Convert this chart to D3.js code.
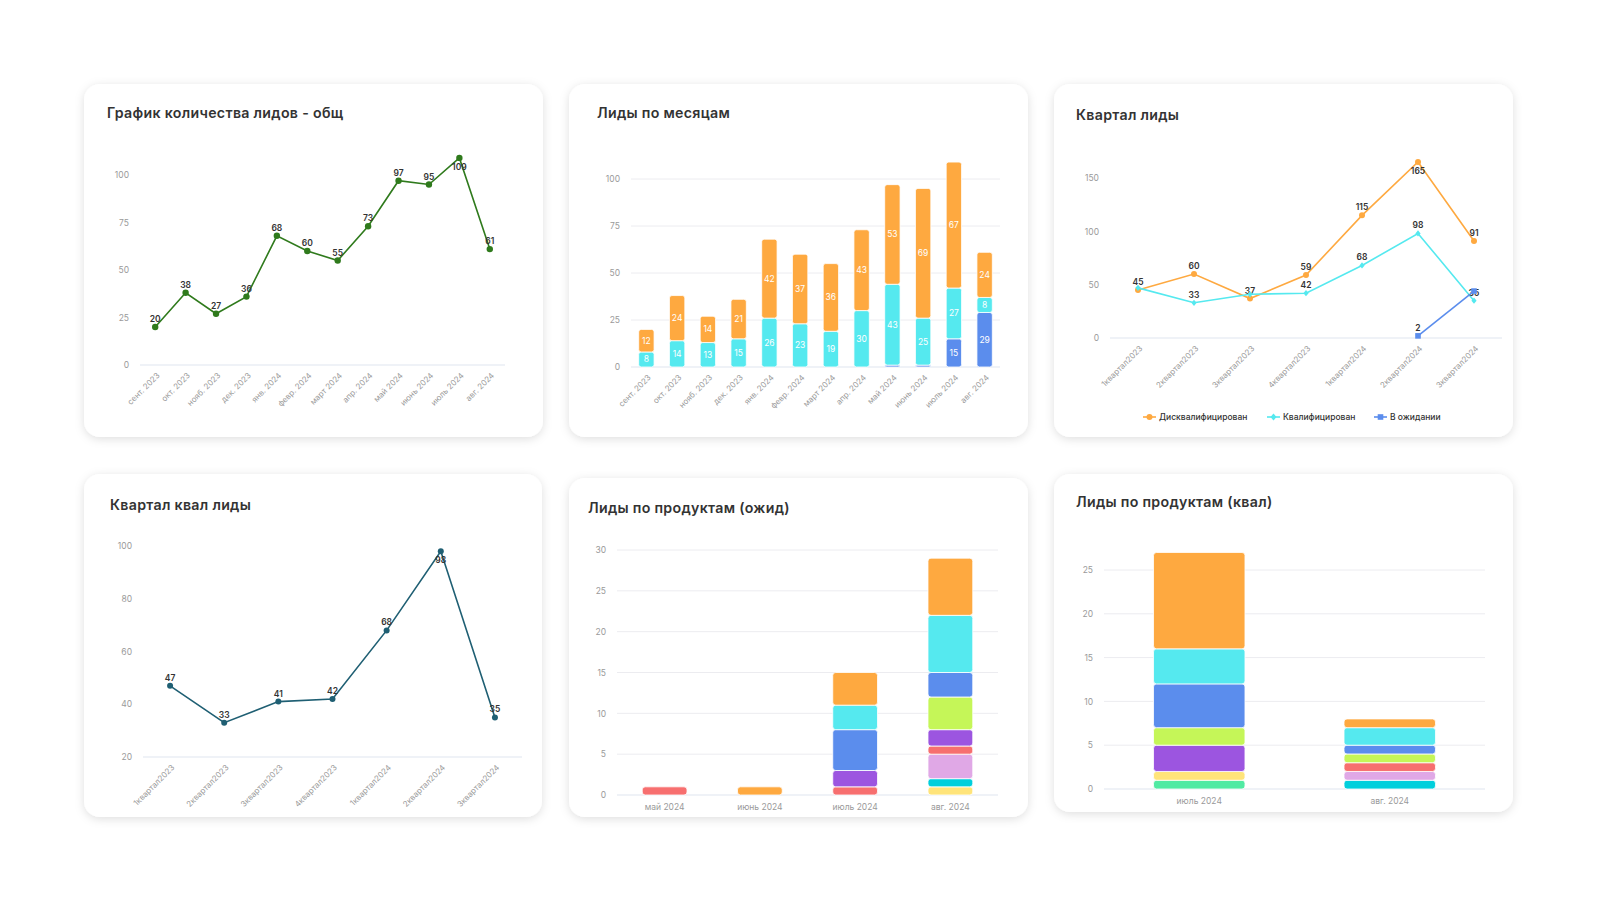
<!DOCTYPE html>
<html><head><meta charset="utf-8">
<script src="https://cdn.jsdelivr.net/npm/d3@7/dist/d3.min.js"></script>
<style>body{margin:0;background:#fff;} svg{display:block;font-family:Inter,"Open Sans",sans-serif;}</style>
</head><body><svg id="c" width="1600" height="900"></svg>
<script>
// ---------- DATA ----------
const months = ["сент. 2023","окт. 2023","нояб. 2023","дек. 2023","янв. 2024","февр. 2024","март 2024","апр. 2024","май 2024","июнь 2024","июль 2024","авг. 2024"];
const monthTotal = [20,38,27,36,68,60,55,73,97,95,109,61];
const monthWait  = [0,0,0,0,0,0,0,0,1,1,15,29];
const monthQual  = [8,14,13,15,26,23,19,30,43,25,27,8];
const monthDisq  = [12,24,14,21,42,37,36,43,53,69,67,24];

const quarters = ["1квартал2023","2квартал2023","3квартал2023","4квартал2023","1квартал2024","2квартал2024","3квартал2024"];
const qDisq = [45,60,37,59,115,165,91];
const qQual = [47,33,41,42,68,98,35];
const qWait = [null,null,null,null,null,2,44];
const seriesNames = ["Дисквалифицирован","Квалифицирован","В ожидании"];

const waitMonths = ["май 2024","июнь 2024","июль 2024","авг. 2024"];
const qualMonths = ["июль 2024","авг. 2024"];
const products = ["Продукт 1","Продукт 2","Продукт 3","Продукт 4","Продукт 5","Продукт 6","Продукт 7","Продукт 8","Продукт 9","Продукт 10"];
// values per product (bottom to top of stack), per month
const prodWait = [
  [0,0,0,0],[0,0,0,1],[0,0,0,1],[0,0,0,3],[1,0,1,1],
  [0,0,2,2],[0,0,0,4],[0,0,5,3],[0,0,3,7],[0,1,4,7]
];
const prodQual = [
  [1,0],[1,0],[0,1],[0,1],[0,1],
  [3,0],[2,1],[5,1],[4,2],[11,1]
];

// ---------- STYLE ----------
const productColors = ["#50eaa3","#ffe47a","#00cfdc","#e0a8e6","#f76f6f","#9c55e0","#c5f658","#5b8ded","#55e9ef","#fea940"];
const cOrange="#fea940", cCyan="#55e9ef", cBlue="#5b8ded";

const svg = d3.select("#c");
const defs = svg.append("defs");
defs.append("filter").attr("id","sh").attr("x","-10%").attr("y","-10%").attr("width","120%").attr("height","125%")
  .append("feDropShadow").attr("dx",0).attr("dy",2).attr("stdDeviation",5)
  .attr("flood-color","#000").attr("flood-opacity",0.13);

function card(x0,y0,x1,y1,title,tx,ty){
  svg.append("rect").attr("x",x0).attr("y",y0).attr("width",x1-x0).attr("height",y1-y0)
    .attr("rx",16).attr("fill","#fff").attr("filter","url(#sh)");
  svg.append("text").attr("x",tx).attr("y",ty).text(title)
    .attr("font-size",14.2).attr("font-weight",600).attr("letter-spacing",0.3).attr("fill","#333");
}

function yAxis(y, ticks, xl, xr, grid){
  const g = svg.append("g");
  if(grid){
    g.selectAll(".gr").data(ticks.slice(1)).join("line")
      .attr("x1",xl).attr("x2",xr).attr("y1",d=>y(d)).attr("y2",d=>y(d))
      .attr("stroke","#ececf0").attr("stroke-width",1);
  }
  g.append("line").attr("x1",xl).attr("x2",xr).attr("y1",y(ticks[0])).attr("y2",y(ticks[0]))
    .attr("stroke","#dfe5f0").attr("stroke-width",1.2);
  const ax = svg.append("g").attr("transform",`translate(${xl},0)`)
    .call(d3.axisLeft(y).tickValues(ticks).tickSize(0).tickPadding(11));
  ax.select(".domain").remove();
  ax.selectAll("text").attr("fill","#9a9a9a").attr("font-size",8.5).attr("font-family","Inter, sans-serif");
}

function xRotLabels(x, cats, yb){
  svg.append("g").selectAll("text").data(cats).join("text")
    .attr("transform",d=>`translate(${x(d)+x.bandwidth()/2+3},${yb+9}) rotate(-45)`)
    .attr("text-anchor","end").attr("dy","0.35em")
    .attr("font-size",8).attr("fill","#9a9a9a").text(d=>d);
}
function xFlatLabels(x, cats, yb){
  svg.append("g").selectAll("text").data(cats).join("text")
    .attr("x",d=>x(d)+x.bandwidth()/2).attr("y",yb)
    .attr("text-anchor","middle").attr("font-size",8.5).attr("fill","#9a9a9a").text(d=>d);
}

function symbol(g, type, cx, cy, color, r){
  if(type==="circle") g.append("circle").attr("cx",cx).attr("cy",cy).attr("r",r).attr("fill",color);
  else if(type==="square") g.append("rect").attr("x",cx-r).attr("y",cy-r).attr("width",2*r).attr("height",2*r).attr("fill",color);
  else g.append("path").attr("d",`M${cx},${cy-r*1.2}L${cx+r},${cy}L${cx},${cy+r*1.2}L${cx-r},${cy}Z`).attr("fill",color);
}

const placed = [];
function overlaps(b){ return placed.some(p=> !(b.x1<p.x0||b.x0>p.x1||b.y1<p.y0||b.y0>p.y1)); }

function lineSeries(x, y, cats, vals, color, sym, r, maxVal, useOverlap){
  const g = svg.append("g");
  const pts = cats.map((c,i)=>({c, v:vals[i]})).filter(d=>d.v!==null);
  const line = d3.line().x(d=>x(d.c)+x.bandwidth()/2).y(d=>y(d.v));
  g.append("path").datum(pts).attr("d",line).attr("fill","none").attr("stroke",color).attr("stroke-width",1.6);
  pts.forEach(d=>symbol(g, sym, x(d.c)+x.bandwidth()/2, y(d.v), color, r));
  pts.forEach(d=>{
    const cx = x(d.c)+x.bandwidth()/2;
    const below = d.v===maxVal;
    const by = below ? y(d.v)+12 : y(d.v)-5;
    const w = String(d.v).length*5.2;
    const box = {x0:cx-w/2, x1:cx+w/2, y0:by-9, y1:by+1.5};
    if(useOverlap){ if(overlaps(box)) return; placed.push(box); }
    g.append("text").attr("x",cx).attr("y",by).attr("text-anchor","middle")
      .attr("font-size",8.5).attr("font-weight",600).attr("fill","#333").text(d.v);
  });
}

function stacked(x, y, cats, seriesVals, colors, labels, rx){
  const rows = cats.map((c,i)=>{ const o={c}; seriesVals.forEach((s,k)=>o[k]=s[i]); return o; });
  const st = d3.stack().keys(seriesVals.map((s,k)=>k))(rows);
  const g = svg.append("g");
  st.forEach((layer,k)=>{
    layer.forEach(d=>{
      const v = d[1]-d[0]; if(v<=0) return;
      const cx = x(d.data.c);
      g.append("rect").attr("x",cx).attr("width",x.bandwidth())
        .attr("y",y(d[1])).attr("height",y(d[0])-y(d[1]))
        .attr("rx",rx).attr("fill",colors[k]).attr("stroke","#fff").attr("stroke-width",0.8);
      if(labels && v>=3){
        g.append("text").attr("x",cx+x.bandwidth()/2).attr("y",(y(d[0])+y(d[1]))/2).attr("dy","0.35em")
          .attr("text-anchor","middle").attr("font-size",8.5).attr("fill","#fff").text(v);
      }
    });
  });
}

// ---------- PANEL 1 ----------
card(84,84,543,437,"График количества лидов - общ",107,118);
{
  const x = d3.scaleBand().domain(months).range([140,505]);
  const y = d3.scaleLinear().domain([0,100]).range([365,175]);
  yAxis(y,[0,25,50,75,100],140,505,false);
  xRotLabels(x,months,365);
  lineSeries(x,y,months,monthTotal,"#2f7a1c","circle",3.2,d3.max(monthTotal),false);
}

// ---------- PANEL 2 ----------
card(569,84,1028,437,"Лиды по месяцам",597,118);
{
  const x = d3.scaleBand().domain(months).range([631,1000]).paddingInner(0.5).paddingOuter(0.25);
  const y = d3.scaleLinear().domain([0,100]).range([367,179]);
  yAxis(y,[0,25,50,75,100],631,1000,true);
  xRotLabels(d3.scaleBand().domain(months).range([631,1000]),months,367);
  stacked(x,y,months,[monthWait,monthQual,monthDisq],[cBlue,cCyan,cOrange],true,2.5);
}

// ---------- PANEL 3 ----------
card(1054,84,1513,437,"Квартал лиды",1076,120);
{
  const x = d3.scaleBand().domain(quarters).range([1110,1502]);
  const y = d3.scaleLinear().domain([0,150]).range([338,178]);
  yAxis(y,[0,50,100,150],1110,1502,false);
  xRotLabels(x,quarters,338);
  placed.length=0;
  lineSeries(x,y,quarters,qDisq,cOrange,"circle",3,d3.max(qDisq),true);
  lineSeries(x,y,quarters,qQual,cCyan,"diamond",2.6,-1,true);
  lineSeries(x,y,quarters,qWait,cBlue,"square",2.8,-1,true);
  // legend
  const lg = svg.append("g");
  const items = [[seriesNames[0],cOrange,"circle",1143],[seriesNames[1],cCyan,"diamond",1267],[seriesNames[2],cBlue,"square",1374]];
  items.forEach(([name,col,sym,lx])=>{
    lg.append("line").attr("x1",lx).attr("x2",lx+13).attr("y1",417).attr("y2",417).attr("stroke",col).attr("stroke-width",1.6);
    symbol(lg,sym,lx+6.5,417,col,sym==="square"?2.8:3);
    lg.append("text").attr("x",lx+16).attr("y",417).attr("dy","0.35em").attr("font-size",8.5)
      .attr("font-weight",500).attr("fill","#333").text(name);
  });
}

// ---------- PANEL 4 ----------
card(84,474,542,817,"Квартал квал лиды",110,510);
{
  const x = d3.scaleBand().domain(quarters).range([143,522]);
  const y = d3.scaleLinear().domain([20,100]).range([757,546]);
  yAxis(y,[20,40,60,80,100],143,522,false);
  xRotLabels(x,quarters,757);
  lineSeries(x,y,quarters,qQual,"#1f5f73","circle",3,d3.max(qQual),false);
}

// ---------- PANEL 5 ----------
card(569,478,1028,817,"Лиды по продуктам (ожид)",588,513);
{
  const x = d3.scaleBand().domain(waitMonths).range([617,998]).paddingInner(0.53).paddingOuter(0.265);
  const y = d3.scaleLinear().domain([0,30]).range([795,550]);
  yAxis(y,[0,5,10,15,20,25,30],617,998,true);
  xFlatLabels(x,waitMonths,810);
  stacked(x,y,waitMonths,prodWait,productColors,false,3);
}

// ---------- PANEL 6 ----------
card(1054,474,1513,812,"Лиды по продуктам (квал)",1076,507);
{
  const x = d3.scaleBand().domain(qualMonths).range([1104,1485]).paddingInner(0.52).paddingOuter(0.26);
  const y = d3.scaleLinear().domain([0,25]).range([789,570]);
  yAxis(y,[0,5,10,15,20,25],1104,1485,true);
  xFlatLabels(x,qualMonths,804);
  stacked(x,y,qualMonths,prodQual,productColors,false,3);
}
</script></body></html>
